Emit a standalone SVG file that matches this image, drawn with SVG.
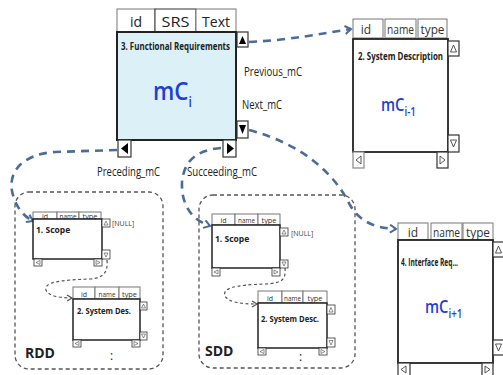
<svg xmlns="http://www.w3.org/2000/svg" width="503" height="375" viewBox="0 0 503 375">
<defs>
<marker id="ab" markerWidth="10" markerHeight="10" refX="7" refY="5" orient="auto" markerUnits="userSpaceOnUse">
<path d="M1,1 L7,5 L1,9" fill="none" stroke="#4a6c98" stroke-width="2"/>
</marker>
<marker id="ag" markerWidth="8" markerHeight="8" refX="6" refY="4" orient="auto" markerUnits="userSpaceOnUse">
<path d="M1,1 L6,4 L1,7" fill="none" stroke="#555" stroke-width="1.3"/>
</marker>
<style>
text{font-family:"Open Sans","Noto Sans","Liberation Sans",sans-serif;fill:#222}
.tab{fill:#fff;stroke:#777;stroke-width:1}
.body{fill:#fff;stroke:#222;stroke-width:1.8}
.btn{fill:#fff;stroke:#333;stroke-width:1.2}
.tri{fill:none;stroke:#444;stroke-width:0.9}
.trif{fill:#000}
.blue{fill:none;stroke:#4a6c98;stroke-width:2.6;stroke-dasharray:8 6}
.gray{fill:none;stroke:#555;stroke-width:1.2;stroke-dasharray:3 2.5}
.grp{fill:none;stroke:#555;stroke-width:1.3;stroke-dasharray:4 3}
.tt{font-size:12px;fill:#333;text-anchor:middle}
.st{font-size:7px;fill:#333;text-anchor:middle}
.title{font-weight:bold}
.mc{fill:#1f3fd0;font-weight:600}
.mc tspan{fill:#1f3fd0}
.lbl{font-size:12.5px;fill:#222}
</style>
</defs>

<g id="connectors">
<path class="blue" d="M249,42 C290,40 320,34 351,29" marker-end="url(#ab)"/>
<path class="blue" d="M249,130 C305,145 335,175 350,205 C360,222 375,228 396,229" marker-end="url(#ab)"/>
<path class="blue" d="M117,150 L55,152 C20,154 5,175 14,198 C18,210 25,217 33,221" marker-end="url(#ab)"/>
<path class="blue" d="M221,148 C195,150 184,162 182,182 C181,205 192,220 210,226" marker-end="url(#ab)"/>
<path class="gray" d="M107,260 C108,272 104,278 90,279 C60,280 44,282 46,290 C48,296 60,298 72,298" marker-end="url(#ag)"/>
<path class="gray" d="M285,268 C286,280 282,283 265,284 C235,285 222,288 225,296 C228,302 240,304 257,304" marker-end="url(#ag)"/>
</g>

<g id="node-mCi">
<rect class="tab" x="117" y="9" width="38" height="23"/>
<rect class="tab" x="155" y="9" width="41" height="23" style="stroke:#333"/>
<rect class="tab" x="196" y="9" width="40" height="23"/>
<text x="136" y="27" style="font-size:14px;text-anchor:middle">id</text>
<text x="175.5" y="27" style="font-size:14px;text-anchor:middle" textLength="28" lengthAdjust="spacingAndGlyphs">SRS</text>
<text x="216" y="27" style="font-size:14px;text-anchor:middle" textLength="28" lengthAdjust="spacingAndGlyphs">Text</text>
<rect x="117" y="32" width="119" height="108" fill="#dcf0f8" stroke="#222" stroke-width="2"/>
<text class="title" x="121" y="50" style="font-size:10.5px" textLength="109" lengthAdjust="spacingAndGlyphs">3. Functional Requirements</text>
<text class="mc" transform="translate(153,100) scale(0.86,1)" style="font-size:26px">mC<tspan dy="7" style="font-size:14px">i</tspan></text>
<rect class="btn" x="237" y="32" width="11" height="15"/>
<polygon class="trif" points="239,44 246,44 242.5,36"/>
<rect class="btn" x="237" y="121" width="11" height="17"/>
<polygon class="trif" points="239,125 246,125 242.5,134"/>
<rect class="btn" x="118" y="140" width="13" height="17"/>
<polygon class="trif" points="128,143 128,154 121,148.5"/>
<rect class="btn" x="223" y="140" width="13" height="17"/>
<polygon class="trif" points="227,143 227,154 234,148.5"/>
<text class="lbl" x="244" y="76" textLength="58" lengthAdjust="spacingAndGlyphs">Previous_mC</text>
<text class="lbl" x="242" y="109" textLength="40" lengthAdjust="spacingAndGlyphs">Next_mC</text>
<text class="lbl" x="97" y="176" textLength="63" lengthAdjust="spacingAndGlyphs">Preceding_mC</text>
<text class="lbl" x="187" y="176" textLength="70" lengthAdjust="spacingAndGlyphs">Succeeding_mC</text>
</g>

<g id="node-mCi-1">
<rect class="tab" x="353" y="19" width="30" height="19"/>
<rect class="tab" x="385" y="19" width="31" height="19"/>
<rect class="tab" x="418" y="19" width="29" height="19"/>
<text class="tt" x="366" y="34">id</text>
<text class="tt" x="400.5" y="34" textLength="27" lengthAdjust="spacingAndGlyphs">name</text>
<text class="tt" x="432.5" y="34" textLength="24" lengthAdjust="spacingAndGlyphs">type</text>
<rect class="body" x="353" y="39" width="95" height="113"/>
<text class="title" x="358" y="60" style="font-size:10px" textLength="85" lengthAdjust="spacingAndGlyphs">2. System Description</text>
<text class="mc" transform="translate(381,111) scale(0.82,1)" style="font-size:18px">mC<tspan dy="5" style="font-size:12px">i-1</tspan></text>
<rect class="btn" x="448" y="41" width="11" height="15"/>
<polygon class="tri" points="450.5,52 456.5,52 453.5,45"/>
<rect class="btn" x="448" y="135" width="11" height="17"/>
<polygon class="tri" points="450.5,140 456.5,140 453.5,147"/>
<rect class="btn" x="353" y="152" width="11" height="16" style="stroke:#888"/>
<polygon class="tri" points="361,156 361,164 356,160"/>
<rect class="btn" x="437" y="152" width="11" height="16"/>
<polygon class="tri" points="440,156 440,164 445,160"/>
</g>

<g id="node-mCi+1">
<rect class="tab" x="398" y="223" width="30" height="17"/>
<rect class="tab" x="431" y="223" width="31" height="17"/>
<rect class="tab" x="463" y="223" width="30" height="17"/>
<text class="tt" x="413" y="237">id</text>
<text class="tt" x="446.5" y="237" textLength="27" lengthAdjust="spacingAndGlyphs">name</text>
<text class="tt" x="478" y="237" textLength="24" lengthAdjust="spacingAndGlyphs">type</text>
<rect class="body" x="398" y="240" width="95" height="123"/>
<text class="title" x="401" y="266" style="font-size:10px" textLength="57" lengthAdjust="spacingAndGlyphs">4. Interface Req...</text>
<text class="mc" transform="translate(425,313) scale(0.82,1)" style="font-size:18px">mC<tspan dy="5" style="font-size:12px">i+1</tspan></text>
<rect class="btn" x="493" y="242" width="11" height="15"/>
<polygon class="tri" points="495.5,253 501.5,253 498.5,246"/>
<rect class="btn" x="493" y="340" width="11" height="15"/>
<polygon class="tri" points="495.5,344 501.5,344 498.5,351"/>
<rect class="btn" x="398" y="363" width="12" height="13"/>
<polygon class="tri" points="406,366 406,373 401,369.5"/>
<rect class="btn" x="482" y="363" width="11" height="13"/>
<polygon class="tri" points="485,366 485,373 490,369.5"/>
</g>

<g id="group-RDD">
<rect class="grp" x="15" y="192" width="148" height="177" rx="14"/>
<text x="25" y="358" style="font-size:14px;font-weight:bold">RDD</text>
<text x="110" y="360" style="font-size:12px">:</text>
</g>

<g id="rdd-scope">
<rect class="tab" x="33" y="212" width="24" height="7"/>
<rect class="tab" x="57" y="212" width="22" height="7"/>
<rect class="tab" x="79" y="212" width="22" height="7"/>
<text class="st" x="45" y="219">id</text>
<text class="st" x="68" y="219" textLength="17" lengthAdjust="spacingAndGlyphs">name</text>
<text class="st" x="90" y="219" textLength="15" lengthAdjust="spacingAndGlyphs">type</text>
<rect class="body" x="33" y="219" width="69" height="40" style="stroke-width:1.5"/>
<text class="title" x="36" y="233" style="font-size:8.5px">1. Scope</text>
<rect class="btn" x="102" y="219" width="8" height="8" style="stroke-width:0.8"/>
<polygon class="tri" points="104,225 108,225 106,221" style="stroke-width:0.6"/>
<text x="112" y="226" style="font-size:7px;fill:#444">[NULL]</text>
<rect class="btn" x="102" y="250" width="8" height="9" style="stroke-width:0.8"/>
<polygon class="tri" points="104,253 108,253 106,257" style="stroke-width:0.6"/>
<rect class="btn" x="34" y="259" width="8" height="7" style="stroke-width:0.8"/>
<polygon class="tri" points="40,260.5 40,264.5 36,262.5" style="stroke-width:0.6"/>
<rect class="btn" x="94" y="259" width="8" height="7" style="stroke-width:0.8"/>
<polygon class="tri" points="96,260.5 96,264.5 100,262.5" style="stroke-width:0.6"/>
</g>

<g id="rdd-sysdes">
<rect class="tab" x="73" y="287" width="22" height="12"/>
<rect class="tab" x="95" y="287" width="24" height="12"/>
<rect class="tab" x="119" y="287" width="21" height="12"/>
<text class="st" x="84" y="297">id</text>
<text class="st" x="107" y="297" textLength="17" lengthAdjust="spacingAndGlyphs">name</text>
<text class="st" x="129.5" y="297" textLength="15" lengthAdjust="spacingAndGlyphs">type</text>
<rect class="body" x="73" y="299" width="67" height="41" style="stroke-width:1.5"/>
<text class="title" x="77" y="314" style="font-size:8.5px" textLength="54" lengthAdjust="spacingAndGlyphs">2. System Des.</text>
<rect class="btn" x="140" y="302" width="7" height="8" style="stroke-width:0.8"/>
<polygon class="tri" points="141.5,308 145.5,308 143.5,304" style="stroke-width:0.6"/>
<rect class="btn" x="140" y="332" width="7" height="8" style="stroke-width:0.8"/>
<polygon class="tri" points="141.5,334 145.5,334 143.5,338" style="stroke-width:0.6"/>
<rect class="btn" x="73" y="340" width="8" height="7" style="stroke-width:0.8"/>
<polygon class="tri" points="79,341.5 79,345.5 75,343.5" style="stroke-width:0.6"/>
<rect class="btn" x="132" y="340" width="8" height="7" style="stroke-width:0.8"/>
<polygon class="tri" points="134,341.5 134,345.5 138,343.5" style="stroke-width:0.6"/>
</g>

<g id="group-SDD">
<rect class="grp" x="199" y="195" width="156" height="173" rx="14"/>
<text x="205" y="356" style="font-size:14px;font-weight:bold">SDD</text>
<text x="299" y="361" style="font-size:12px">:</text>
</g>

<g id="sdd-scope">
<rect class="tab" x="212" y="214" width="23" height="11"/>
<rect class="tab" x="235" y="214" width="23" height="11"/>
<rect class="tab" x="258" y="214" width="22" height="11"/>
<text class="st" x="223.5" y="223">id</text>
<text class="st" x="246.5" y="223" textLength="17" lengthAdjust="spacingAndGlyphs">name</text>
<text class="st" x="269" y="223" textLength="15" lengthAdjust="spacingAndGlyphs">type</text>
<rect class="body" x="212" y="225" width="68" height="43" style="stroke-width:1.5"/>
<text class="title" x="215" y="242" style="font-size:8.5px">1. Scope</text>
<rect class="btn" x="280" y="228" width="8" height="8" style="stroke-width:0.8"/>
<polygon class="tri" points="282,234 286,234 284,230" style="stroke-width:0.6"/>
<text x="291" y="236" style="font-size:7px;fill:#444">[NULL]</text>
<rect class="btn" x="280" y="260" width="8" height="8" style="stroke-width:0.8"/>
<polygon class="tri" points="282,262 286,262 284,266" style="stroke-width:0.6"/>
<rect class="btn" x="212" y="268" width="8" height="8" style="stroke-width:0.8"/>
<polygon class="tri" points="218,270 218,274 214,272" style="stroke-width:0.6"/>
<rect class="btn" x="272" y="268" width="8" height="8" style="stroke-width:0.8"/>
<polygon class="tri" points="274,270 274,274 278,272" style="stroke-width:0.6"/>
</g>

<g id="sdd-sysdesc">
<rect class="tab" x="258" y="291" width="24" height="12"/>
<rect class="tab" x="282" y="291" width="21" height="12"/>
<rect class="tab" x="303" y="291" width="24" height="12"/>
<text class="st" x="270" y="301">id</text>
<text class="st" x="292.5" y="301" textLength="17" lengthAdjust="spacingAndGlyphs">name</text>
<text class="st" x="315" y="301" textLength="15" lengthAdjust="spacingAndGlyphs">type</text>
<rect class="body" x="258" y="303" width="69" height="45" style="stroke-width:1.5"/>
<text class="title" x="261" y="322" style="font-size:8.5px" textLength="58" lengthAdjust="spacingAndGlyphs">2. System Desc.</text>
<rect class="btn" x="327" y="305" width="8" height="9" style="stroke-width:0.8"/>
<polygon class="tri" points="329,312 333,312 331,307.5" style="stroke-width:0.6"/>
<rect class="btn" x="327" y="338" width="8" height="9" style="stroke-width:0.8"/>
<polygon class="tri" points="329,340.5 333,340.5 331,345" style="stroke-width:0.6"/>
<rect class="btn" x="258" y="348" width="8" height="7" style="stroke-width:0.8"/>
<polygon class="tri" points="264,349.5 264,353.5 260,351.5" style="stroke-width:0.6"/>
<rect class="btn" x="319" y="348" width="8" height="7" style="stroke-width:0.8"/>
<polygon class="tri" points="321,349.5 321,353.5 325,351.5" style="stroke-width:0.6"/>
</g>
</svg>
